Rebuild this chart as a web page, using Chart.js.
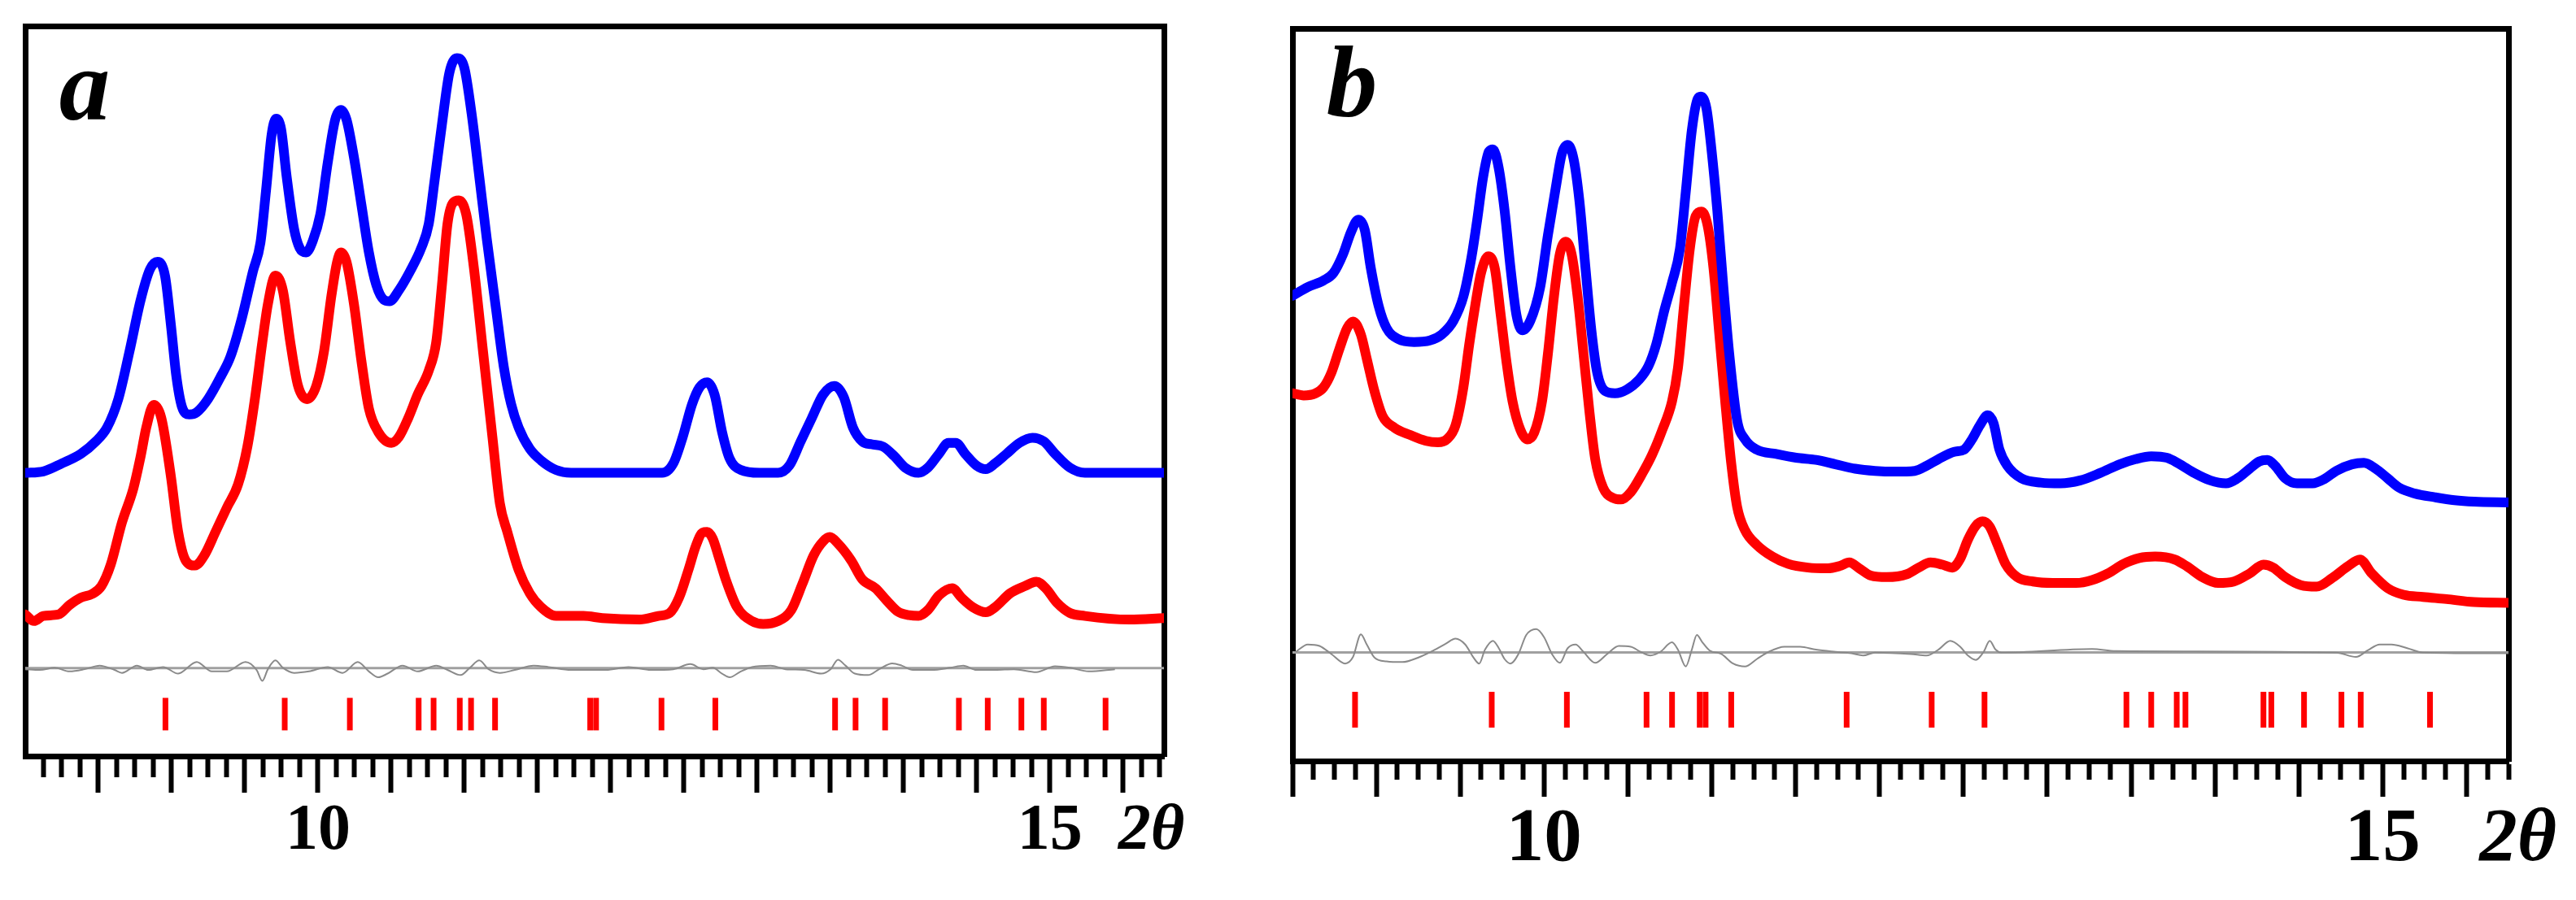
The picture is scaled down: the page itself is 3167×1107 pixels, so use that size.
<!DOCTYPE html>
<html>
<head>
<meta charset="utf-8">
<script src="https://cdn.jsdelivr.net/npm/chart.js@4.4.1/dist/chart.umd.min.js"></script>
<style>
html, body { margin: 0; padding: 0; background: #fff; }
body { width: 3167px; height: 1107px; position: relative; overflow: hidden; }
canvas { position: absolute; top: 0; }
#chartA { left: 0; }
#chartB { left: 1560px; }
</style>
</head>
<body>
<canvas id="chartA" width="1500" height="1107"></canvas>
<canvas id="chartB" width="1607" height="1107"></canvas>
<script>
// ---- panel a ----
const aBlueX = [8.0, 8.124, 8.252, 8.38, 8.482, 8.559, 8.636, 8.712, 8.789, 8.853, 8.904, 8.955, 8.994, 9.032, 9.07, 9.121, 9.172, 9.249, 9.339, 9.402, 9.479, 9.556, 9.607, 9.645, 9.684, 9.714, 9.748, 9.786, 9.837, 9.875, 9.919, 9.965, 10.016, 10.067, 10.118, 10.157, 10.195, 10.246, 10.297, 10.348, 10.399, 10.45, 10.489, 10.553, 10.629, 10.706, 10.757, 10.796, 10.847, 10.898, 10.949, 11.0, 11.051, 11.102, 11.153, 11.217, 11.269, 11.32, 11.371, 11.447, 11.524, 11.626, 11.729, 12.352, 12.428, 12.492, 12.556, 12.607, 12.659, 12.71, 12.761, 12.812, 12.889, 13.016, 13.144, 13.221, 13.298, 13.374, 13.451, 13.528, 13.592, 13.655, 13.719, 13.783, 13.86, 13.937, 14.013, 14.103, 14.167, 14.243, 14.307, 14.358, 14.422, 14.499, 14.563, 14.627, 14.704, 14.793, 14.882, 14.959, 15.036, 15.138, 15.24, 15.78];
const aBlueY = [38.8, 39.0, 40.1, 41.4, 43.1, 45.0, 48.9, 55.4, 62.5, 66.7, 67.7, 65.8, 59.3, 52.1, 47.9, 46.8, 47.1, 48.9, 52.1, 54.7, 59.9, 66.4, 70.3, 77.4, 85.2, 87.3, 85.9, 79.4, 72.2, 69.6, 69.0, 70.6, 74.2, 81.3, 87.2, 88.5, 87.2, 82.0, 75.5, 69.0, 64.5, 62.5, 62.3, 63.8, 66.4, 69.6, 72.9, 78.7, 86.5, 93.6, 95.6, 94.3, 87.8, 79.4, 70.9, 61.2, 53.4, 48.2, 45.0, 42.1, 40.5, 39.2, 38.8, 38.8, 40.1, 43.7, 48.2, 50.5, 51.2, 49.5, 44.4, 40.8, 39.2, 38.8, 38.8, 39.8, 43.1, 46.3, 49.5, 50.7, 49.2, 45.0, 43.1, 42.7, 42.4, 41.1, 39.5, 38.8, 39.5, 41.4, 42.9, 42.9, 41.4, 39.8, 39.3, 40.1, 41.4, 42.9, 43.6, 43.1, 41.4, 39.5, 38.8, 38.8];
const aRedX = [8.0, 8.06, 8.124, 8.227, 8.303, 8.38, 8.457, 8.521, 8.584, 8.661, 8.738, 8.789, 8.827, 8.878, 8.93, 8.994, 9.045, 9.096, 9.16, 9.224, 9.3, 9.377, 9.454, 9.518, 9.569, 9.62, 9.658, 9.709, 9.76, 9.811, 9.863, 9.926, 9.99, 10.041, 10.093, 10.131, 10.157, 10.195, 10.246, 10.297, 10.348, 10.412, 10.502, 10.553, 10.617, 10.681, 10.757, 10.808, 10.847, 10.885, 10.923, 10.962, 11.013, 11.064, 11.128, 11.192, 11.243, 11.294, 11.371, 11.447, 11.524, 11.626, 11.815, 11.943, 12.198, 12.326, 12.403, 12.467, 12.531, 12.582, 12.628, 12.659, 12.697, 12.735, 12.786, 12.863, 12.965, 13.042, 13.144, 13.234, 13.31, 13.387, 13.451, 13.497, 13.553, 13.643, 13.719, 13.809, 13.886, 13.962, 14.039, 14.103, 14.167, 14.243, 14.333, 14.397, 14.474, 14.563, 14.627, 14.729, 14.831, 14.908, 14.972, 15.049, 15.138, 15.24, 15.547, 15.78];
const aRedY = [19.4, 18.5, 19.2, 19.4, 20.7, 21.7, 22.2, 23.3, 26.2, 32.0, 36.6, 41.1, 45.0, 48.1, 46.3, 38.5, 30.7, 26.8, 26.1, 27.5, 30.7, 34.0, 37.2, 42.4, 48.9, 56.7, 61.9, 65.8, 63.8, 56.7, 50.8, 48.9, 50.8, 55.4, 63.2, 67.7, 69.0, 67.7, 61.9, 54.1, 47.6, 44.4, 42.9, 43.7, 46.3, 49.5, 52.8, 56.7, 64.5, 72.9, 75.8, 76.1, 74.2, 67.1, 55.4, 43.7, 34.6, 30.7, 25.5, 22.3, 20.4, 19.2, 19.2, 18.9, 18.7, 19.2, 19.6, 21.7, 25.5, 28.8, 30.6, 30.7, 29.8, 27.5, 24.2, 20.4, 18.5, 18.1, 18.5, 20.0, 23.6, 27.5, 29.4, 30.0, 29.1, 26.8, 24.2, 23.0, 21.3, 19.8, 19.3, 19.2, 20.0, 22.0, 23.0, 21.7, 20.4, 19.7, 20.4, 22.3, 23.3, 23.9, 23.0, 21.0, 19.6, 19.2, 18.7, 18.9];
const aDiffX = [8.0, 8.099, 8.201, 8.303, 8.406, 8.508, 8.61, 8.661, 8.763, 8.84, 8.942, 9.045, 9.172, 9.275, 9.377, 9.505, 9.581, 9.62, 9.658, 9.709, 9.76, 9.837, 9.939, 10.067, 10.169, 10.272, 10.348, 10.412, 10.476, 10.578, 10.681, 10.808, 10.885, 10.975, 11.038, 11.102, 11.166, 11.243, 11.345, 11.473, 11.575, 11.729, 11.968, 12.122, 12.275, 12.428, 12.544, 12.633, 12.697, 12.761, 12.812, 12.889, 12.965, 13.093, 13.195, 13.323, 13.438, 13.502, 13.553, 13.604, 13.668, 13.758, 13.834, 13.924, 13.988, 14.064, 14.192, 14.32, 14.409, 14.499, 14.627, 14.755, 14.908, 15.036, 15.138, 15.266, 15.445];
const aDiffY = [11.9, 11.8, 12.1, 11.6, 11.9, 12.4, 11.8, 11.4, 12.4, 11.8, 12.2, 11.3, 12.9, 11.6, 11.6, 12.9, 11.8, 10.3, 11.9, 13.1, 12.1, 11.4, 11.6, 12.2, 11.4, 12.9, 11.6, 10.8, 11.3, 12.4, 11.6, 12.4, 11.8, 11.1, 12.1, 13.1, 11.9, 11.4, 11.8, 12.4, 12.2, 11.8, 11.8, 12.2, 11.8, 11.9, 12.6, 11.9, 12.1, 11.3, 10.8, 11.6, 12.2, 12.4, 11.9, 11.8, 11.3, 11.9, 13.2, 12.4, 11.3, 11.1, 11.9, 12.7, 12.4, 11.8, 11.8, 12.1, 12.4, 11.8, 11.8, 11.9, 11.5, 12.3, 12.1, 11.6, 11.9];
const aReflections = [8.958, 9.773, 10.218, 10.688, 10.79, 10.969, 11.046, 11.21, 11.86, 11.9, 12.347, 12.715, 13.533, 13.673, 13.875, 14.379, 14.576, 14.806, 14.959, 15.381];
const aZeroLine = 12.05;
const aTickLevel = 5.75;

// ---- panel b ----
const bBlueX = [8.5, 8.591, 8.685, 8.744, 8.802, 8.849, 8.892, 8.931, 8.967, 9.014, 9.061, 9.131, 9.225, 9.319, 9.389, 9.46, 9.519, 9.566, 9.601, 9.636, 9.671, 9.695, 9.73, 9.765, 9.8, 9.836, 9.871, 9.918, 9.977, 10.023, 10.07, 10.106, 10.141, 10.176, 10.211, 10.247, 10.282, 10.317, 10.364, 10.423, 10.493, 10.564, 10.622, 10.669, 10.716, 10.763, 10.81, 10.845, 10.881, 10.916, 10.935, 10.968, 10.998, 11.033, 11.069, 11.104, 11.151, 11.198, 11.268, 11.386, 11.503, 11.621, 11.738, 11.855, 11.973, 12.093, 12.21, 12.281, 12.351, 12.445, 12.504, 12.551, 12.598, 12.645, 12.68, 12.715, 12.762, 12.845, 12.962, 13.079, 13.197, 13.314, 13.432, 13.526, 13.62, 13.713, 13.784, 13.878, 13.972, 14.066, 14.136, 14.207, 14.265, 14.312, 14.359, 14.418, 14.489, 14.582, 14.653, 14.723, 14.817, 14.888, 14.958, 15.029, 15.099, 15.193, 15.311, 15.428, 15.545, 15.75];
const bBlueY = [63.5, 64.7, 65.6, 66.6, 69.2, 72.2, 73.9, 72.5, 67.3, 62.1, 59.1, 57.6, 57.2, 57.4, 58.2, 60.1, 63.4, 68.6, 73.8, 79.6, 83.2, 83.5, 80.9, 75.1, 67.3, 60.8, 58.8, 60.1, 64.7, 71.8, 78.3, 82.9, 84.1, 82.2, 76.4, 67.3, 58.8, 53.0, 50.5, 50.2, 50.7, 52.0, 53.9, 56.9, 61.4, 65.3, 69.9, 77.7, 86.1, 90.4, 90.7, 89.1, 83.5, 75.1, 64.7, 55.6, 46.5, 43.9, 42.5, 41.9, 41.4, 41.1, 40.5, 39.9, 39.6, 39.5, 39.6, 40.3, 41.2, 42.2, 42.5, 43.9, 45.8, 47.2, 46.1, 42.5, 40.3, 38.6, 38.0, 37.9, 38.3, 39.3, 40.5, 41.2, 41.6, 41.4, 40.6, 39.3, 38.3, 37.9, 38.6, 39.9, 40.9, 41.1, 40.3, 38.6, 37.9, 37.9, 38.5, 39.6, 40.5, 40.7, 39.9, 38.6, 37.3, 36.5, 36.0, 35.6, 35.4, 35.3];
const bRedX = [8.5, 8.567, 8.638, 8.685, 8.732, 8.779, 8.826, 8.861, 8.908, 8.943, 8.99, 9.037, 9.108, 9.202, 9.295, 9.366, 9.425, 9.472, 9.519, 9.554, 9.589, 9.624, 9.667, 9.706, 9.742, 9.777, 9.812, 9.859, 9.901, 9.941, 9.988, 10.023, 10.059, 10.094, 10.129, 10.164, 10.2, 10.235, 10.27, 10.305, 10.352, 10.411, 10.458, 10.517, 10.587, 10.646, 10.705, 10.763, 10.798, 10.834, 10.869, 10.904, 10.939, 10.975, 11.01, 11.045, 11.08, 11.116, 11.151, 11.198, 11.268, 11.362, 11.456, 11.574, 11.691, 11.761, 11.82, 11.879, 11.949, 12.043, 12.163, 12.234, 12.304, 12.375, 12.434, 12.481, 12.527, 12.574, 12.614, 12.657, 12.704, 12.751, 12.821, 12.915, 13.032, 13.173, 13.267, 13.361, 13.455, 13.549, 13.643, 13.76, 13.831, 13.925, 14.019, 14.113, 14.207, 14.289, 14.348, 14.418, 14.512, 14.606, 14.7, 14.794, 14.864, 14.935, 15.029, 15.123, 15.24, 15.381, 15.545, 15.75];
const bRedY = [50.2, 49.9, 50.2, 51.0, 53.0, 56.2, 59.1, 60.0, 58.2, 54.9, 50.4, 47.1, 45.5, 44.5, 43.7, 43.5, 44.0, 45.8, 51.0, 56.9, 62.1, 66.6, 68.9, 67.3, 60.8, 54.3, 49.1, 45.2, 43.9, 44.8, 49.1, 55.6, 63.4, 69.2, 70.9, 69.2, 63.4, 55.6, 47.8, 41.2, 37.3, 35.9, 35.7, 36.7, 39.3, 41.9, 45.2, 49.1, 53.6, 62.1, 69.9, 74.4, 75.0, 73.1, 67.3, 58.2, 49.1, 40.6, 34.7, 31.5, 29.5, 27.9, 26.9, 26.4, 26.3, 26.6, 27.1, 26.3, 25.3, 25.1, 25.5, 26.4, 27.1, 26.8, 26.4, 27.6, 30.2, 32.1, 32.7, 32.0, 29.5, 26.9, 25.1, 24.5, 24.3, 24.3, 24.7, 25.6, 26.9, 27.7, 27.9, 27.5, 26.6, 25.1, 24.3, 24.5, 25.6, 26.8, 26.4, 25.1, 24.0, 23.8, 25.0, 26.6, 27.5, 25.6, 23.6, 22.7, 22.4, 22.1, 21.7, 21.6];
const bDiffX = [8.52, 8.591, 8.661, 8.732, 8.814, 8.861, 8.908, 8.943, 8.99, 9.061, 9.155, 9.248, 9.342, 9.413, 9.472, 9.53, 9.577, 9.613, 9.648, 9.695, 9.73, 9.765, 9.8, 9.847, 9.894, 9.953, 10.0, 10.047, 10.094, 10.141, 10.188, 10.235, 10.305, 10.376, 10.446, 10.517, 10.575, 10.634, 10.693, 10.763, 10.798, 10.845, 10.881, 10.911, 10.944, 10.986, 11.057, 11.127, 11.198, 11.268, 11.339, 11.433, 11.527, 11.621, 11.738, 11.832, 11.902, 11.973, 12.187, 12.281, 12.351, 12.422, 12.481, 12.527, 12.574, 12.621, 12.657, 12.692, 12.727, 13.267, 13.408, 14.723, 14.841, 14.911, 14.982, 15.052, 15.146, 15.24, 15.75];
const bDiffY = [14.9, 15.9, 15.7, 14.6, 13.3, 14.2, 17.3, 15.9, 14.1, 13.6, 13.5, 14.1, 15.1, 16.0, 16.7, 15.9, 14.2, 13.3, 15.2, 16.4, 15.4, 13.9, 13.3, 14.6, 17.2, 18.0, 16.9, 14.6, 13.4, 15.4, 15.9, 14.9, 13.4, 14.6, 15.7, 15.6, 14.9, 14.4, 14.9, 16.2, 15.2, 12.9, 15.2, 17.2, 16.2, 15.1, 14.6, 13.3, 12.9, 13.9, 14.9, 15.6, 15.6, 15.2, 14.9, 14.7, 14.4, 14.8, 14.6, 14.4, 15.2, 16.4, 15.6, 14.4, 13.8, 14.9, 16.4, 15.2, 14.8, 15.3, 15.0, 14.8, 14.2, 15.1, 15.9, 15.9, 15.4, 14.8, 14.7];
const bReflections = [8.873, 9.688, 10.136, 10.611, 10.763, 10.928, 10.963, 11.116, 11.804, 12.311, 12.626, 13.472, 13.62, 13.772, 13.824, 14.289, 14.336, 14.531, 14.754, 14.869, 15.282];
const bZeroLine = 14.83;
const bTickLevel = 7.0;

const serif = "'Liberation Serif', 'Times New Roman', serif";

function pts(xs, ys) {
    return xs.map((x, i) => ({ x: x, y: ys[i] }));
}

function curve(xs, ys, color) {
    return {
        data: pts(xs, ys),
        showLine: true,
        borderColor: color,
        borderWidth: 12,
        pointRadius: 0,
        cubicInterpolationMode: 'monotone',
        borderJoinStyle: 'round',
        borderCapStyle: 'round'
    };
}

function boxAxis(position) {
    return {
        type: 'linear',
        position: position,
        display: true,
        grid: { display: false, drawTicks: false },
        ticks: { display: false },
        border: { display: true, color: '#000', width: 7 }
    };
}

function panel(id, p) {
    const ctx = document.getElementById(id).getContext('2d');
    new Chart(ctx, {
        type: 'scatter',
        data: {
            datasets: [
                curve(p.blueX, p.blueY, '#0000ff'),
                curve(p.redX, p.redY, '#ff0000'),
                {
                    data: p.refl.map((x) => ({ x: x, y: p.tickLevel })),
                    pointStyle: 'line',
                    pointRotation: 90,
                    pointRadius: p.tickHalf,
                    pointHoverRadius: p.tickHalf,
                    pointBorderColor: '#ff0000',
                    pointBackgroundColor: '#ff0000',
                    pointBorderWidth: 7
                },
                {
                    data: pts(p.diffX, p.diffY),
                    showLine: true,
                    borderColor: '#8a8a8a',
                    borderWidth: 2,
                    pointRadius: 0,
                    cubicInterpolationMode: 'monotone'
                },
                {
                    data: [{ x: p.min, y: p.zero }, { x: p.max, y: p.zero }],
                    showLine: true,
                    borderColor: '#a0a0a0',
                    borderWidth: 3,
                    pointRadius: 0
                }
            ]
        },
        options: {
            responsive: false,
            animation: false,
            devicePixelRatio: 1,
            layout: { padding: p.padding, autoPadding: false },
            plugins: {
                legend: { display: false },
                tooltip: { enabled: false },
                title: {
                    display: true,
                    text: ' \u200A' + p.letter,
                    align: 'start',
                    fullSize: false,
                    color: '#000',
                    font: { family: serif, size: 125, style: 'italic', weight: 'bold', lineHeight: 1 },
                    padding: { top: p.letterTop, bottom: -(125 + p.letterTop) }
                }
            },
            scales: {
                x: {
                    type: 'linear',
                    position: 'bottom',
                    min: p.min,
                    max: p.max,
                    border: { display: true, color: '#000', width: 7 },
                    grid: {
                        display: true,
                        drawOnChartArea: false,
                        drawTicks: true,
                        tickLength: p.tickLen,
                        tickWidth: 6,
                        tickColor: (c) => (c.tick && p.hideFirst && c.tick.value === p.min) ? 'rgba(0,0,0,0)' : '#000',
                        tickBorderDash: (c) => (c.tick && c.tick.value % 0.5 !== 0) ? [p.minorLen, 400] : []
                    },
                    ticks: {
                        stepSize: 0.125,
                        includeBounds: false,
                        autoSkip: false,
                        maxRotation: 0,
                        minRotation: 0,
                        padding: p.labelPad,
                        color: '#000',
                        font: (c) => ({
                            family: serif,
                            size: p.labelSize,
                            weight: 'bold',
                            style: (c.tick && c.tick.value === 15.75) ? 'italic' : 'normal',
                            lineHeight: 1
                        }),
                        callback: (v) => v === 10 ? '10' : v === 15 ? '15' : v === 15.75 ? p.axisName : ''
                    }
                },
                y: {
                    type: 'linear',
                    position: 'left',
                    min: 0,
                    max: 100,
                    grid: { display: false, drawTicks: false },
                    ticks: { display: false },
                    border: { display: true, color: '#000', width: 7 }
                },
                xTop: boxAxis('top'),
                yRight: boxAxis('right')
            }
        }
    });
}

panel('chartA', {
    letter: 'a', letterTop: 20,
    blueX: aBlueX, blueY: aBlueY, redX: aRedX, redY: aRedY,
    diffX: aDiffX, diffY: aDiffY, refl: aReflections,
    zero: aZeroLine, tickLevel: aTickLevel, tickHalf: 20,
    min: 8.0, max: 15.78, hideFirst: true,
    tickLen: 45, minorLen: 22,
    labelSize: 80, labelPad: 8, axisName: '2θ ',
    padding: { left: 31, right: 69, top: 32, bottom: 36 }
});

panel('chartB', {
    letter: 'b', letterTop: 13,
    blueX: bBlueX, blueY: bBlueY, redX: bRedX, redY: bRedY,
    diffX: bDiffX, diffY: bDiffY, refl: bReflections,
    zero: bZeroLine, tickLevel: bTickLevel, tickHalf: 22,
    min: 8.5, max: 15.75, hideFirst: false,
    tickLen: 44, minorLen: 19,
    labelSize: 93, labelPad: 7, axisName: ' 2θ',
    padding: { left: 29, right: 83, top: 35, bottom: 20 }
});
</script>
</body>
</html>
